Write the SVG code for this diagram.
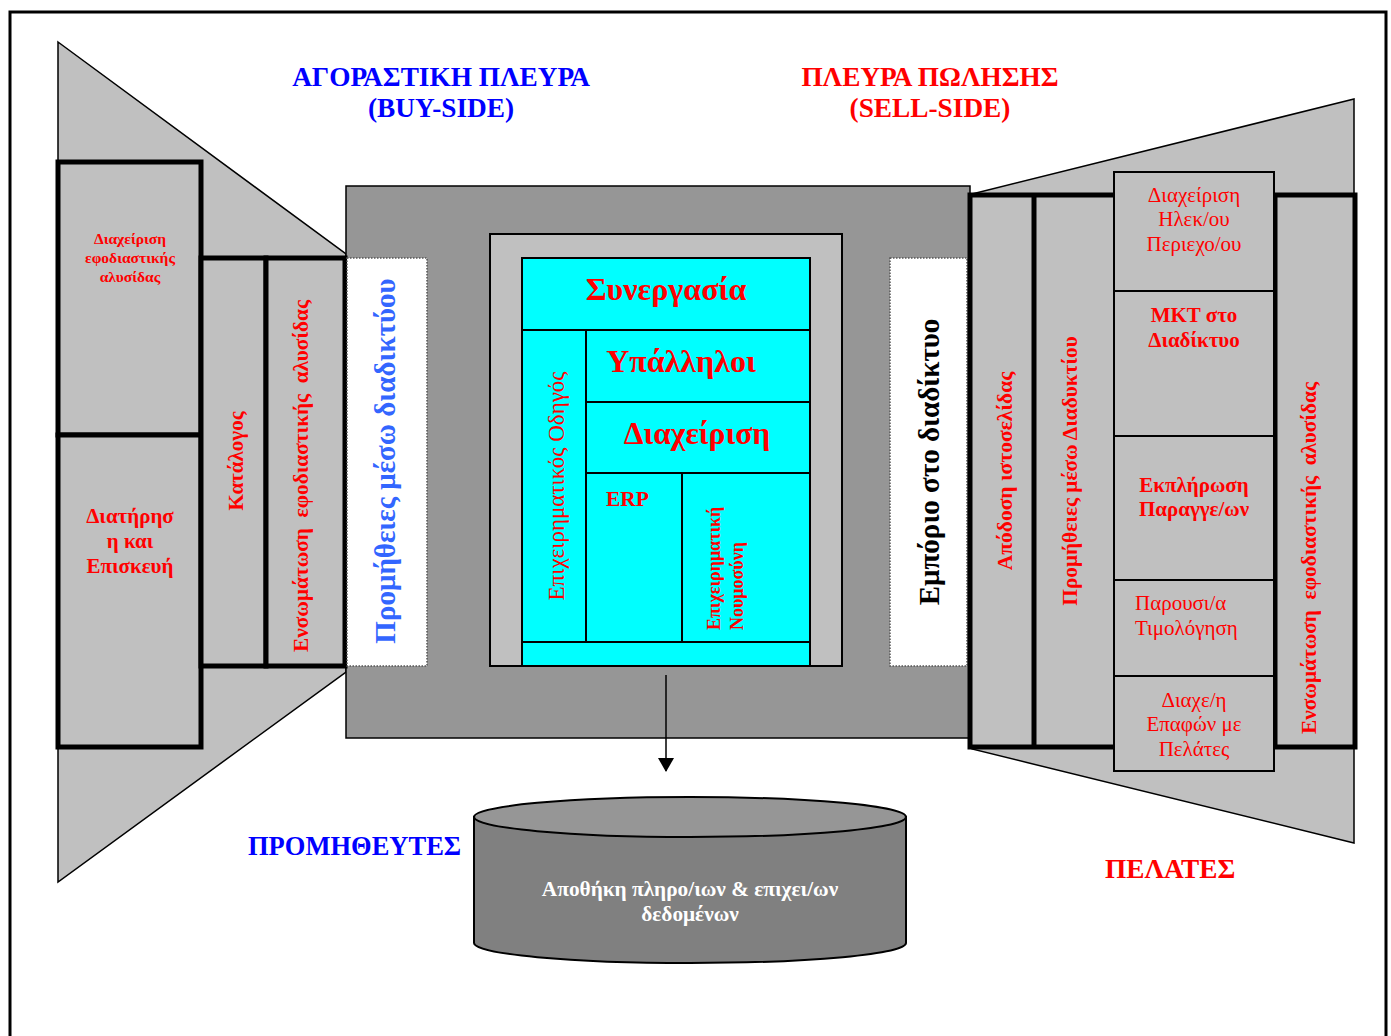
<svg xmlns="http://www.w3.org/2000/svg" width="1391" height="1036" viewBox="0 0 1391 1036">
<defs>
<style>
text{font-family:"Liberation Serif","Times New Roman",serif}
.b{font-weight:bold}
.red{fill:#ff0000}
.blue{fill:#0000ff}
.lg{fill:#c0c0c0;stroke:#000}
.thick{stroke-width:5}
.thin{stroke-width:2}
.dot{fill:#ffffff;stroke:#555;stroke-width:1.5;stroke-dasharray:1.5 1.5}
.mid{text-anchor:middle}
</style>
<marker id="arr" markerWidth="14" markerHeight="16" refX="13" refY="8" orient="auto" markerUnits="userSpaceOnUse">
<path d="M0,0 L14,8 L0,16 Z" fill="#000"/>
</marker>
</defs>
<rect width="1391" height="1036" fill="#fff"/>
<path d="M10,1040 V12 H1386 V1040" fill="none" stroke="#000" stroke-width="3"/>

<g id="left-funnel">
<polygon points="58,42 346,254 346,672 58,882" fill="#c0c0c0" stroke="#000" stroke-width="1.5"/>
</g>
<g id="right-funnel">
<polygon points="972,194 1354,99 1354,843 972,749" fill="#c0c0c0" stroke="#000" stroke-width="1.5"/>
</g>

<g id="enterprise">
<rect x="346" y="186" width="624" height="552" fill="#969696" stroke="#000" stroke-width="1.5"/>
<rect x="490" y="234" width="352" height="432" fill="#c0c0c0" stroke="#000" stroke-width="2"/>
</g>

<g id="core">
<rect x="522" y="258" width="288" height="408" fill="#00ffff" stroke="#000" stroke-width="2"/>
<g stroke="#000" stroke-width="2">
<line x1="522" y1="330" x2="810" y2="330"/>
<line x1="586" y1="330" x2="586" y2="642"/>
<line x1="586" y1="402" x2="810" y2="402"/>
<line x1="586" y1="473" x2="810" y2="473"/>
<line x1="682" y1="473" x2="682" y2="642"/>
<line x1="522" y1="642" x2="810" y2="642"/>
</g>
<text class="b red mid" x="666" y="300" font-size="32">Συνεργασία</text>
<text class="b red mid" x="681" y="372" font-size="32">Υπάλληλοι</text>
<text class="b red mid" x="697" y="444" font-size="31.5">Διαχείριση</text>
<text class="b red" x="606" y="506" font-size="21.5">ERP</text>
<text class="red mid" transform="translate(564,486) rotate(-90)" font-size="23">Επιχειρηματικός Οδηγός</text>
<text class="b red" transform="translate(720,630) rotate(-90)" font-size="18">Επιχειρηματική</text>
<text class="b red" transform="translate(743,630) rotate(-90)" font-size="18">Νουμοσύνη</text>
</g>

<g id="buy-side-boxes">
<rect class="lg thick" x="58" y="162" width="143" height="273"/>
<rect class="lg thick" x="58" y="435" width="143" height="312"/>
<rect class="lg thick" x="201" y="258" width="65" height="408"/>
<rect class="lg thick" x="266" y="258" width="79" height="408"/>
<text class="b red mid" font-size="15.5"><tspan x="130" y="244">Διαχείριση</tspan><tspan x="130" y="263">εφοδιαστικής</tspan><tspan x="130" y="282">αλυσίδας</tspan></text>
<text class="b red mid" font-size="21"><tspan x="130" y="523">Διατήρησ</tspan><tspan x="130" y="548">η και</tspan><tspan x="130" y="573">Επισκευή</tspan></text>
<text class="b red mid" transform="translate(243,461) rotate(-90)" font-size="21">Κατάλογος</text>
<text class="b red mid" transform="translate(308,476) rotate(-90)" font-size="21.3" xml:space="preserve">Ενσωμάτωση  εφοδιαστικής  αλυσίδας</text>
</g>

<g id="buy-internet">
<rect class="dot" x="347" y="258" width="80" height="408"/>
<text class="b mid" fill="#3366ff" transform="translate(395,461) rotate(-90)" font-size="29">Προμήθειες μέσω διαδικτύου</text>
</g>

<g id="sell-internet">
<rect class="dot" x="890" y="258" width="77" height="408"/>
<text class="b mid" fill="#000" transform="translate(939,462) rotate(-90)" font-size="29">Εμπόριο στο διαδίκτυο</text>
</g>

<g id="sell-side-boxes">
<rect class="lg thick" x="970" y="195" width="385" height="552"/>
<line x1="1034" y1="195" x2="1034" y2="747" stroke="#000" stroke-width="5"/>
<line x1="1275" y1="195" x2="1275" y2="747" stroke="#000" stroke-width="5"/>
<text class="b red mid" transform="translate(1012,471) rotate(-90)" font-size="21.5">Απόδοση ιστοσελίδας</text>
<text class="b red mid" transform="translate(1077,471) rotate(-90)" font-size="21.3">Προμήθειες μέσω Διαδυκτίου</text>
<text class="b red mid" transform="translate(1316,558) rotate(-90)" font-size="21.3" xml:space="preserve">Ενσωμάτωση  εφοδιαστικής  αλυσίδας</text>
</g>

<g id="sell-functions">
<rect class="lg thin" x="1114" y="172" width="160" height="119"/>
<rect class="lg thin" x="1114" y="291" width="160" height="145"/>
<rect class="lg thin" x="1114" y="436" width="160" height="144"/>
<rect class="lg thin" x="1114" y="580" width="160" height="96"/>
<rect class="lg thin" x="1114" y="676" width="160" height="95"/>
<text class="red mid" font-size="21"><tspan x="1194" y="202">Διαχείριση</tspan><tspan x="1194" y="226">Ηλεκ/ου</tspan><tspan x="1194" y="251">Περιεχο/ου</tspan></text>
<text class="b red mid" font-size="21"><tspan x="1194" y="322">MKT στο</tspan><tspan x="1194" y="347">Διαδίκτυο</tspan></text>
<text class="b red mid" font-size="21"><tspan x="1194" y="492">Εκπλήρωση</tspan><tspan x="1194" y="516">Παραγγε/ων</tspan></text>
<text class="red" font-size="21"><tspan x="1135" y="610">Παρουσι/α</tspan><tspan x="1135" y="635">Τιμολόγηση</tspan></text>
<text class="red mid" font-size="21"><tspan x="1194" y="707">Διαχε/η</tspan><tspan x="1194" y="731">Επαφών με</tspan><tspan x="1194" y="756">Πελάτες</tspan></text>
</g>

<g id="database">
<path d="M474,817 V943 A216,20 0 0 0 906,943 V817 Z" fill="#808080" stroke="#000" stroke-width="2"/>
<ellipse cx="690" cy="817" rx="216" ry="20" fill="#969696" stroke="#000" stroke-width="2"/>
<text class="b mid" fill="#fff" font-size="21.3"><tspan x="690" y="896">Αποθήκη πληρο/ιων &amp; επιχει/ων</tspan><tspan x="690" y="921">δεδομένων</tspan></text>
</g>

<g id="connectors">
<line x1="666" y1="675" x2="666" y2="771" stroke="#000" stroke-width="1.5" marker-end="url(#arr)"/>
</g>

<g id="labels">
<text class="b blue mid" font-size="27.3"><tspan x="441" y="86">ΑΓΟΡΑΣΤΙΚΗ ΠΛΕΥΡΑ</tspan><tspan x="441" y="117">(BUY-SIDE)</tspan></text>
<text class="b red mid" font-size="27.3"><tspan x="930" y="86">ΠΛΕΥΡΑ ΠΩΛΗΣΗΣ</tspan><tspan x="930" y="117">(SELL-SIDE)</tspan></text>
<text class="b blue" x="248" y="855" font-size="26.5">ΠΡΟΜΗΘΕΥΤΕΣ</text>
<text class="b red" x="1105" y="878" font-size="27.3">ΠΕΛΑΤΕΣ</text>
</g>
</svg>
